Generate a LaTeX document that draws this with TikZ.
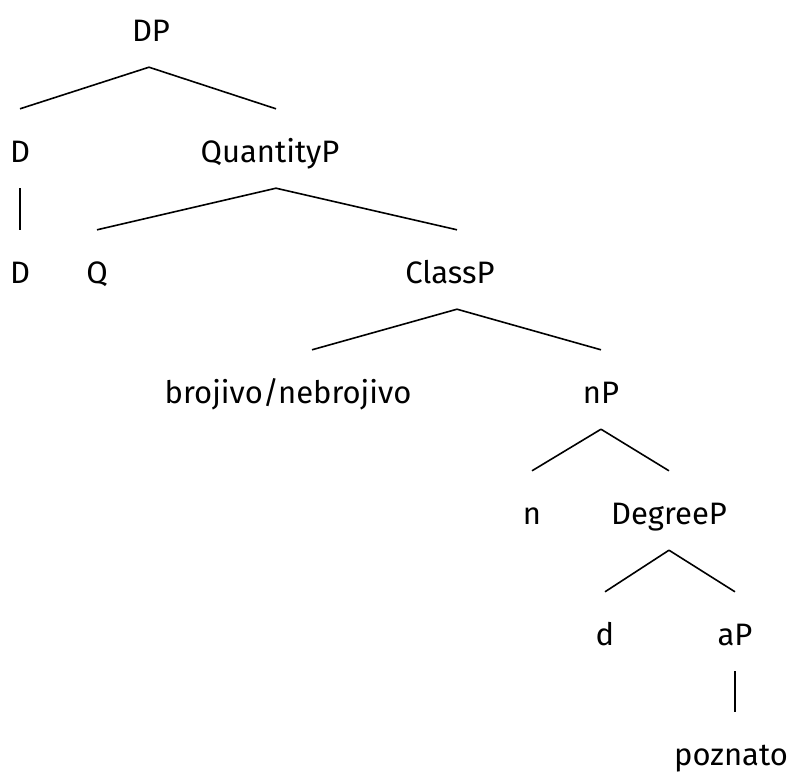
\documentclass[tikz,border=0pt]{standalone}
\usepackage{fontspec}
\setmainfont{Fira Sans}
\usetikzlibrary{calc}

\tikzset{
	lbl/.style={anchor=base, inner sep=0pt, text height=53pt, text depth=26pt, font=\fontsize{31}{36}\selectfont},
	branch/.style={line width=1.6pt}
}

\begin{document}
\begin{tikzpicture}[x=1pt,y=1pt,yscale=-1,xscale=1]
		\useasboundingbox (0,0) rectangle (790,774);

		% labels, one row per level
		\node [lbl] (dp) at (151,41) {DP};
		\node [lbl] (d1) at (20,162) {D};
		\node [lbl] (qp) at (270,162) {QuantityP};
		\node [lbl] (d2) at (20,283) {D};
		\node [lbl] (q) at (97,283) {Q};
		\node [lbl] (clp) at (450,283) {ClassP};
		\node [lbl] (bro) at (288,403) {brojivo/nebrojivo};
		\node [lbl] (np) at (601,403) {nP};
		\node [lbl] (n) at (532,524) {n};
		\node [lbl] (degp) at (669,524) {DegreeP};
		\node [lbl] (dd) at (605,645) {d};
		\node [lbl] (ap) at (735,645) {aP};
		\node [lbl] (pozn) at (731,765) {poznato};

		% branches
		\draw [branch] ([xshift=-2pt]dp.south) -- (d1.north);
		\draw [branch] ([xshift=-2pt]dp.south) -- ([xshift=6pt]qp.north);
		\draw [branch] (d1.south) -- (d2.north);
		\draw [branch] ([xshift=6pt]qp.south) -- (q.north);
		\draw [branch] ([xshift=6pt]qp.south) -- ([xshift=7pt]clp.north);
		\draw [branch] ([xshift=7pt]clp.south) -- ([xshift=24pt]bro.north);
		\draw [branch] ([xshift=7pt]clp.south) -- (np.north);
		\draw [branch] (np.south) -- (n.north);
		\draw [branch] (np.south) -- (degp.north);
		\draw [branch] (degp.south) -- (dd.north);
		\draw [branch] (degp.south) -- (ap.north);
		\draw [branch] (ap.south) -- ([xshift=4pt]pozn.north);
\end{tikzpicture}
\end{document}
